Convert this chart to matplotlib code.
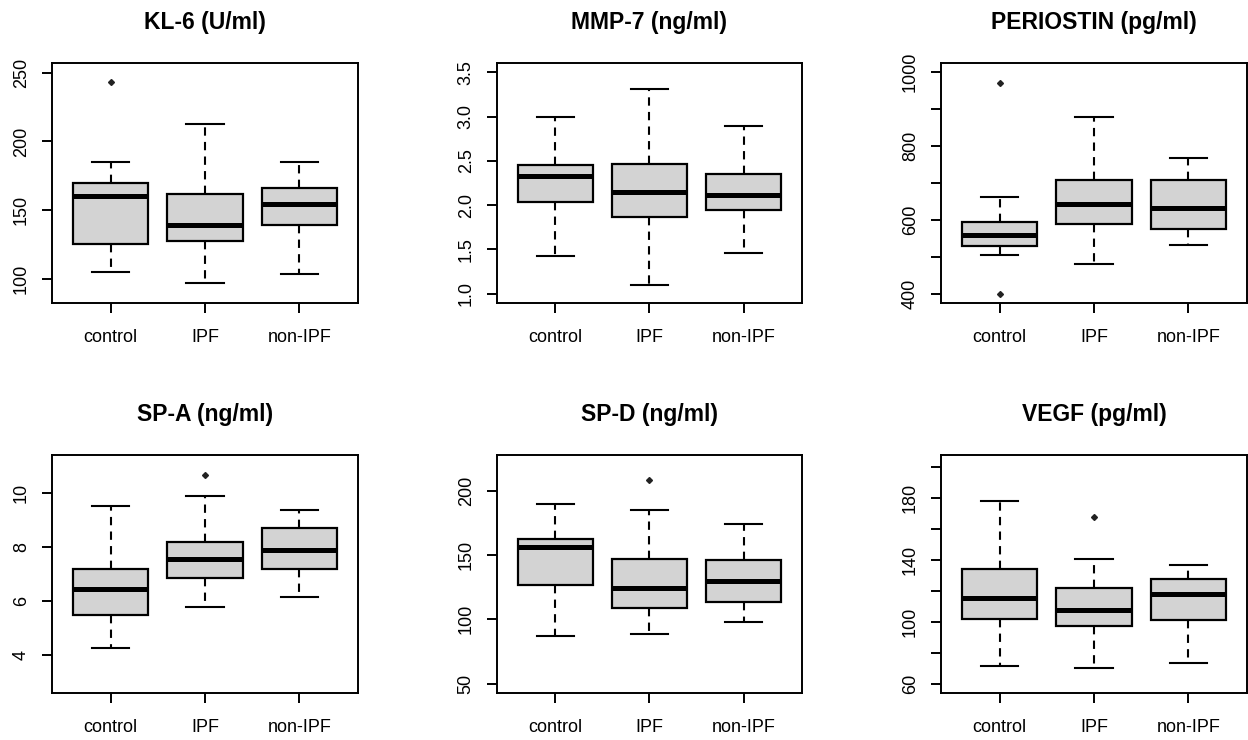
import matplotlib
matplotlib.use('Agg')
import matplotlib.pyplot as plt

plt.rcParams['font.family'] = ['Liberation Sans', 'DejaVu Sans']

groups = ['control', 'IPF', 'non-IPF']

# five-number summaries per group: [whislo, q1, med, q3, whishi]
kl6_stats = [[105, 125.5, 160, 170, 185], [97, 127.5, 139, 162, 212.5], [104, 139, 154.5, 166, 185]]
kl6_fliers = [[243.5], [], []]

mmp7_stats = [[1.42, 2.03, 2.33, 2.45, 3.0], [1.10, 1.865, 2.15, 2.47, 3.31], [1.46, 1.95, 2.11, 2.35, 2.89]]
mmp7_fliers = [[], [], []]

periostin_stats = [[506, 530, 560, 593, 661], [481, 588, 642, 709, 878], [531, 574, 633, 709, 767]]
periostin_fliers = [[971, 398], [], []]

spa_stats = [[4.26, 5.48, 6.43, 7.20, 9.50], [5.77, 6.86, 7.55, 8.17, 9.88], [6.15, 7.19, 7.87, 8.70, 9.36]]
spa_fliers = [[], [10.66], []]

spd_stats = [[87, 127, 156, 162.8, 190], [88.5, 109, 124, 147, 184.7], [98, 113.4, 129.7, 146, 174]]
spd_fliers = [[], [208.3], []]

vegf_stats = [[71.5, 102, 115.5, 134.5, 178], [70.2, 97.2, 107.7, 122, 140.4], [73.4, 101, 118, 128, 137]]
vegf_fliers = [[], [168], []]

titles = ['KL-6 (U/ml)', 'MMP-7 (ng/ml)', 'PERIOSTIN (pg/ml)',
          'SP-A (ng/ml)', 'SP-D (ng/ml)', 'VEGF (pg/ml)']
ylims = [(82.6, 257), (0.894, 3.606), (374.6, 1025), (2.61, 11.39), (42.8, 227.7), (54, 208)]
yticks = [[100, 150, 200, 250],
          [1.0, 1.5, 2.0, 2.5, 3.0, 3.5],
          [400, 500, 600, 700, 800, 900, 1000],
          [4, 6, 8, 10],
          [50, 100, 150, 200],
          [60, 80, 100, 120, 140, 160, 180, 200]]
yticklabels = [['100', '150', '200', '250'],
               ['1.0', '1.5', '2.0', '2.5', '3.0', '3.5'],
               ['400', '', '600', '', '800', '', '1000'],
               ['4', '6', '8', '10'],
               ['50', '100', '150', '200'],
               ['60', '', '100', '', '140', '', '180', '']]

all_stats = [kl6_stats, mmp7_stats, periostin_stats, spa_stats, spd_stats, vegf_stats]
all_fliers = [kl6_fliers, mmp7_fliers, periostin_fliers, spa_fliers, spd_fliers, vegf_fliers]

W, H = 1248, 740
fig = plt.figure(figsize=(W / 100, H / 100), dpi=100)

cols = [(52, 358), (497, 802), (941, 1247)]
rows = [(63, 303), (455, 693)]

for i in range(6):
    (left, right) = cols[i % 3]
    (top, bottom) = rows[i // 3]
    ax = fig.add_axes([left / W, 1 - bottom / H, (right - left) / W, (bottom - top) / H])

    stats = []
    for g, s, f in zip(groups, all_stats[i], all_fliers[i]):
        stats.append(dict(label=g, whislo=s[0], q1=s[1], med=s[2], q3=s[3], whishi=s[4], fliers=f))

    ax.bxp(stats, positions=[1, 2, 3], widths=0.8, capwidths=0.4, patch_artist=True,
           boxprops=dict(facecolor='#d3d3d3', edgecolor='black', linewidth=1.6),
           medianprops=dict(color='black', linewidth=3.6, solid_capstyle='butt'),
           whiskerprops=dict(color='black', linewidth=1.5, linestyle=(0, (4, 3))),
           capprops=dict(color='black', linewidth=1.5),
           flierprops=dict(marker='D', markersize=3, markerfacecolor='#222222',
                           markeredgecolor='#222222'))

    ax.set_xlim(0.38, 3.62)
    ax.set_ylim(*ylims[i])
    ax.set_yticks(yticks[i])
    ax.set_yticklabels(yticklabels[i])
    ax.set_xticks([1, 2, 3])
    ax.set_xticklabels(groups)

    ax.tick_params(axis='both', direction='out', length=7, width=1.4, labelsize=13)
    ax.tick_params(axis='x', pad=12)
    ax.tick_params(axis='y', pad=9)
    for lab in ax.get_yticklabels():
        lab.set_rotation(90)
        lab.set_va('center')
    for sp in ax.spines.values():
        sp.set_linewidth(1.4)

    ax.annotate(titles[i], xy=(0.5, 1), xycoords='axes fraction', xytext=(0, 29.5),
                textcoords='offset points', ha='center', va='center',
                fontsize=16.5, fontweight='bold')

fig.savefig('out.png', dpi=100)
